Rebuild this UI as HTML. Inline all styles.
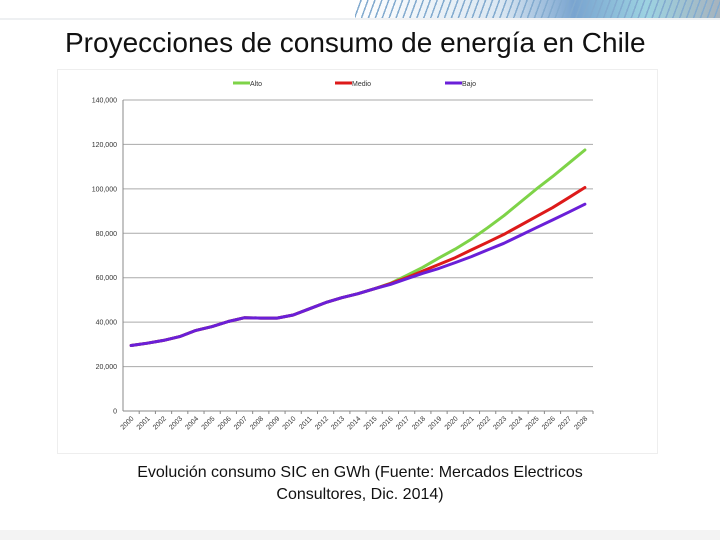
<!DOCTYPE html>
<html><head><meta charset="utf-8"><style>
body{margin:0;width:720px;height:540px;background:#fff;position:relative;overflow:hidden;font-family:"Liberation Sans",sans-serif}
#stripes{position:absolute;left:355px;top:0;width:365px;height:18px;background:repeating-linear-gradient(110deg,transparent 0 5px,#5a8fc0 5px 6.5px),linear-gradient(90deg,#fff 0%,#cfe0ee 40%,#4d86c0 60%,#7cc4d8 80%,#8a9aa8 100%);opacity:.75}
#bar{position:absolute;left:0;top:18px;width:720px;height:2px;background:#eef0f2}
#title{position:absolute;left:65px;top:27px;font-size:28px;color:#111;white-space:nowrap}
#chartbox{position:absolute;left:58px;top:70px;width:599px;height:383px;background:#fff;box-shadow:0 0 0 1px #eee}
#cap{position:absolute;left:0;width:720px;top:462px;text-align:center;font-size:16px;line-height:22px;color:#111}
#foot{position:absolute;left:0;top:530px;width:720px;height:10px;background:#f3f3f3}
</style></head><body>
<div id="stripes"></div>
<div id="bar"></div>
<div id="title">Proyecciones de consumo de energía en Chile</div>
<div id="chartbox"></div>
<svg id="chart" width="720" height="540" style="position:absolute;left:0;top:0"></svg>
<div id="cap">Evolución consumo SIC en GWh (Fuente: Mercados Electricos<br>Consultores, Dic. 2014)</div>
<div id="foot"></div>
<script>
const years=[2000,2001,2002,2003,2004,2005,2006,2007,2008,2009,2010,2011,2012,2013,2014,2015,2016,2017,2018,2019,2020,2021,2022,2023,2024,2025,2026,2027,2028];
const hist=[29500,30500,31800,33500,36300,38000,40300,42000,41800,41800,43200,46000,48800,51000,52800,55000];
const alto=[57500,61000,64700,68900,72900,77400,82500,87900,93900,99900,105500,111500,117500];
const medio=[57300,60000,63000,66000,69000,72500,76000,79500,83500,87500,91500,96000,100600];
const bajo=[57000,59500,62000,64200,66800,69500,72500,75500,79000,82500,86000,89500,93100];
const yTicks=[0,20000,40000,60000,80000,100000,120000,140000];
const yTickLabels=["0","20,000","40,000","60,000","80,000","100,000","120,000","140,000"];
const NS="http://www.w3.org/2000/svg";
const svg=document.getElementById('chart');
const L=123,R=593,T=100,B=411,yMax=140000;
const band=(R-L)/years.length;
const x=i=>L+band*(i+0.5);
const y=v=>B-(v/yMax)*(B-T);
function mk(t,a){const e=document.createElementNS(NS,t);for(const k in a)e.setAttribute(k,a[k]);svg.appendChild(e);return e;}
yTicks.forEach((v,i)=>{
  const g=mk('line',{x1:L,x2:R,y1:y(v),y2:y(v),stroke:i==0?'#888':'#aaa','stroke-width':1});
  
  
  const t=mk('text',{x:L-6,y:y(v)+2.5,'text-anchor':'end','font-size':7,fill:'#333'});
  t.textContent=yTickLabels[i];
  
  
});
const ax=mk('line',{x1:L,x2:L,y1:T,y2:B,stroke:'#888'});


years.forEach((yr,i)=>{
  const tk=mk('line',{x1:L+band*(i+1),x2:L+band*(i+1),y1:B,y2:B+3,stroke:'#888'});
  
  
  const xx=x(i)+3,yy=B+8;
  const t=mk('text',{x:xx,y:yy,'text-anchor':'end','font-size':7,fill:'#333',transform:`rotate(-45 ${xx} ${yy})`});
  t.textContent=yr;
  
  
});
function series(vals,color,name){
  const all=hist.concat(vals);
  const d=all.map((v,i)=>(i?'L':'M')+x(i).toFixed(1)+' '+y(v).toFixed(1)).join(' ');
  const p=mk('path',{d:d,fill:'none',stroke:color,'stroke-width':3,'stroke-linejoin':'round','stroke-linecap':'round'});
  
  
}
series(alto,'#7ed348','alto');
series(medio,'#dd1a1a','medio');
series(bajo,'#6a1fd8','bajo');
const leg=[['Alto','#7ed348',233],['Medio','#dd1a1a',335],['Bajo','#6a1fd8',445]];
leg.forEach(l=>{
  const ln=mk('line',{x1:l[2],x2:l[2]+17,y1:83,y2:83,stroke:l[1],'stroke-width':3});
  
  
  const t=mk('text',{x:l[2]+17,y:86,'font-size':7,fill:'#333'});
  t.textContent=l[0];
  
  
});
</script>
</body></html>
